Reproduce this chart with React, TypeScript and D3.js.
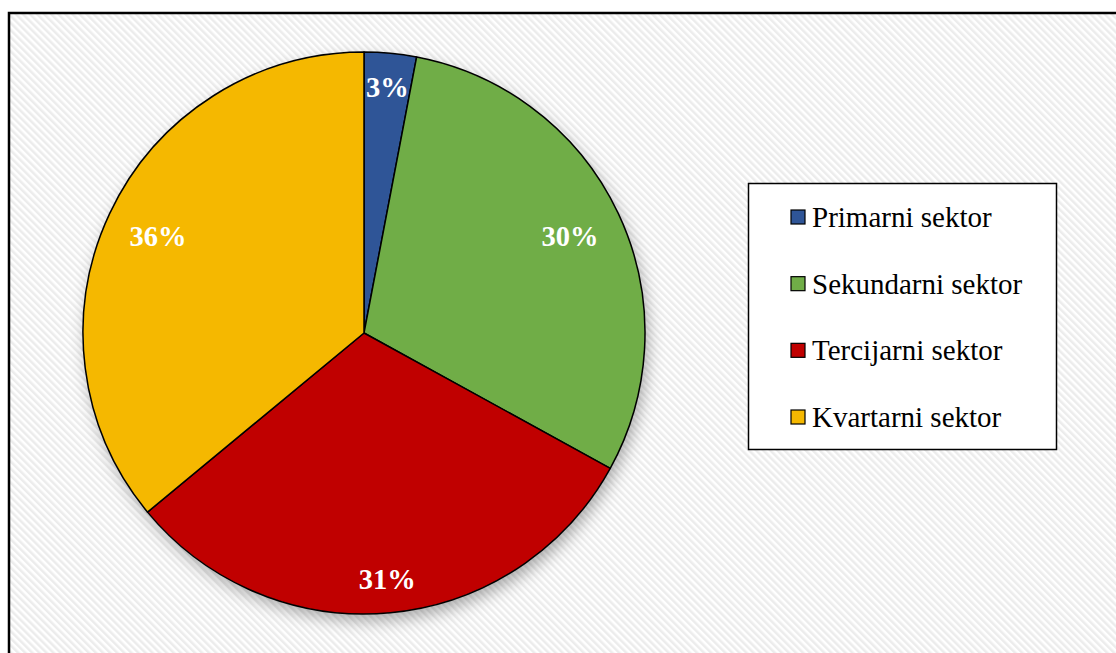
import React from 'react';
import * as d3 from 'd3';

const sectors = ['Primarni sektor', 'Sekundarni sektor', 'Tercijarni sektor', 'Kvartarni sektor'];
const shares = [3, 30, 31, 36];
const colors = ['#2f5597', '#70ad47', '#c00000', '#f5b800'];
// label distance from centre as a fraction of radius (Excel "best fit" placement)
const labelPos = [0.88, 0.81, 0.88, 0.81];

const W = 1116;
const H = 653;
const FONT = '"Liberation Serif", "Times New Roman", serif';

export default function App() {
  const cx = 364;
  const cy = 333;
  const radius = 281;

  const pie = d3.pie<number>().value(d => d).sort(null);
  const arcs = pie(shares);
  const arc = d3.arc<d3.PieArcDatum<number>>().innerRadius(0).outerRadius(radius);

  const legendRow = d3.scalePoint<string>().domain(sectors).range([217, 417]);

  return (
    <div style={{ position: 'fixed', left: 0, top: 0, width: W, height: H }}>
      <svg width={W} height={H} style={{ display: 'block' }}>
        <defs>
          <pattern id="hatch" width="5" height="5" patternUnits="userSpaceOnUse" patternTransform="rotate(-45)">
            <rect width="5" height="5" fill="#ffffff" />
            <rect width="2.5" height="5" fill="#ececec" />
          </pattern>
          <filter id="shadow" x="-20%" y="-20%" width="140%" height="140%">
            <feDropShadow dx="3" dy="7" stdDeviation="8" floodColor="#000" floodOpacity="0.32" />
          </filter>
        </defs>
        <rect x={0} y={0} width={W} height={H} fill="#fff" />
        <rect x={9} y={13} width={W + 20} height={H + 20} fill="url(#hatch)" stroke="#000" strokeWidth={2.5} />

        <g transform={`translate(${cx},${cy})`}>
          <circle r={radius} fill="#fff" filter="url(#shadow)" />
          {arcs.map((a, i) => (
            <path key={sectors[i]} d={arc(a) || ''} fill={colors[i]} stroke="#000" strokeWidth={1.5} strokeLinejoin="round" />
          ))}
          {arcs.map((a, i) => {
            const r = radius * labelPos[i];
            const [x, y] = d3.arc<d3.PieArcDatum<number>>().innerRadius(r).outerRadius(r).centroid(a);
            return (
              <text key={'l' + i} x={x} y={y} dy="0.35em" textAnchor="middle" fill="#fff"
                fontWeight="bold" fontSize={28.5} style={{ fontFamily: FONT }}>
                {a.data}%
              </text>
            );
          })}
        </g>

        <rect x={748.5} y={183.5} width={308} height={266} fill="#fff" stroke="#000" strokeWidth={1.5} />
        {sectors.map((s, i) => {
          const y = legendRow(s) as number;
          return (
            <g key={s}>
              <rect x={791} y={y - 7} width={14} height={14} fill={colors[i]} stroke="#000" strokeWidth={1.2} />
              <text x={812} y={y} dy="0.35em" fontSize={29} fill="#000" style={{ fontFamily: FONT }}>{s}</text>
            </g>
          );
        })}
      </svg>
    </div>
  );
}
